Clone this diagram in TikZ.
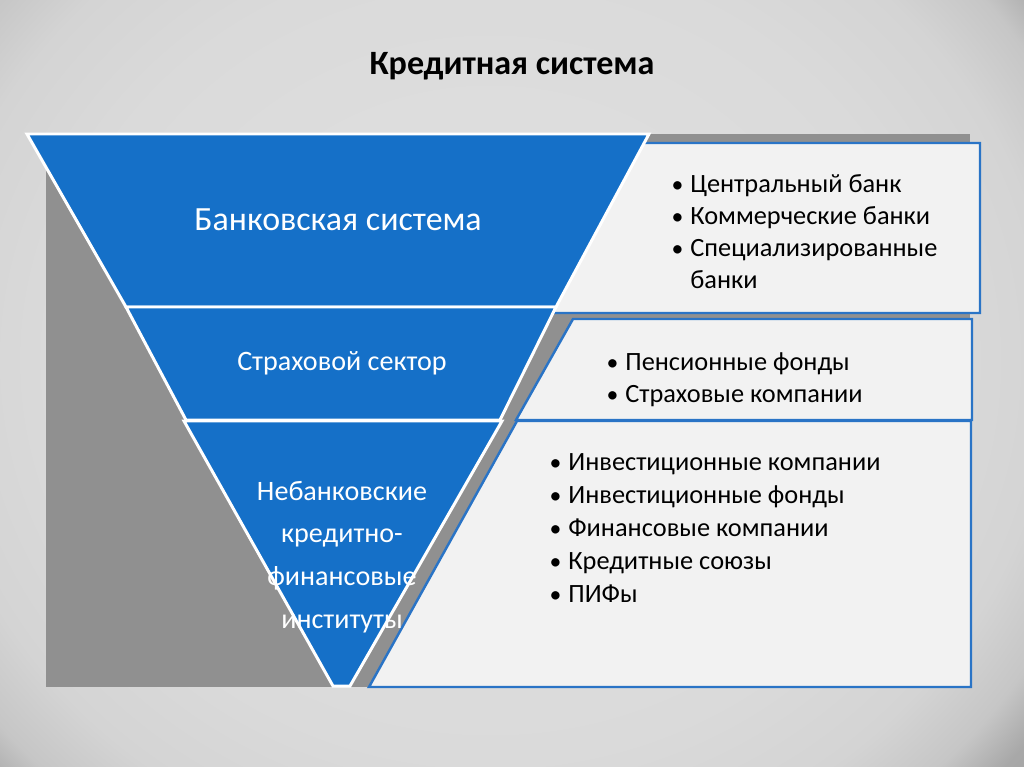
\documentclass[tikz,border=0pt]{standalone}
\usepackage{fontspec}
\setmainfont{Carlito}
\definecolor{bandblue}{HTML}{1570C8}
\definecolor{boxblue}{HTML}{2A74C6}
\definecolor{boxfill}{HTML}{F2F2F2}
\definecolor{shadowgray}{HTML}{909090}
\definecolor{bgA}{HTML}{E2E2E2}
\definecolor{bgB}{HTML}{DADADA}
\definecolor{bgC}{HTML}{D4D4D4}
\definecolor{bgD}{HTML}{C6C6C6}
\definecolor{bgE}{HTML}{A8A8A8}
\definecolor{bgF}{HTML}{9A9A9A}
\pgfdeclareradialshading{slidebg}{\pgfpoint{0bp}{0bp}}{color(0bp)=(bgA); color(20bp)=(bgB); color(25.5bp)=(bgC); color(28.8bp)=(bgD); color(31bp)=(bgE); color(38bp)=(bgF); color(50bp)=(bgF)}
\newcommand{\blt}{\llap{\scalebox{0.9}{\textbullet}\hspace{4pt}}}
\begin{document}
\begin{tikzpicture}[x=0.02cm, y=-0.02cm, line join=round,
  band/.style={fill=bandblue, draw=white, line width=1.7pt, line join=miter},
  listbox/.style={fill=boxfill, draw=boxblue, line width=1.4pt, line join=miter},
  bandtext/.style={text=white, inner sep=0pt, font=\fontsize{16}{24.4}\selectfont, align=center},
  item/.style={anchor=base west, inner sep=0pt, font=\fontsize{15}{18}\selectfont}]
\useasboundingbox (0,0) rectangle (1024,767);
% background
\begin{scope}
\clip (0,0) rectangle (1024,767);
\shade[shading=slidebg] (-60,-140) rectangle (1040,860);
\end{scope}
\fill[shadowgray] (46,134) rectangle (970,687);
% corners of the funnel and of the boxes
\path
(27,134) coordinate (T1)
(649,134) coordinate (T2)
(556,307) coordinate (T3)
(126,307) coordinate (T4)
(500,420) coordinate (T5)
(186,420) coordinate (T6)
(184,421) coordinate (T7)
(502,421) coordinate (T8)
(350,686) coordinate (T9)
(333,686) coordinate (T10)
;
\path
(640,143) coordinate (P1) (980,143) coordinate (P2) (980,313) coordinate (P3) (548,313) coordinate (P4)
(573,319) coordinate (Q1) (972,319) coordinate (Q2) (972,420) coordinate (Q3) (516,420) coordinate (Q4)
(517,421) coordinate (R1) (971,421) coordinate (R2) (971,687) coordinate (R3) (369,687) coordinate (R4)
;
\draw[listbox] (P1)--(P2)--(P3)--(P4)--cycle;
\draw[listbox] (Q1)--(Q2)--(Q3)--(Q4)--cycle;
\draw[listbox] (R1)--(R2)--(R3)--(R4)--cycle;
\draw[band] (T1)--(T2)--(T3)--(T4)--cycle;
\draw[band] (T4)--(T3)--(T5)--(T6)--cycle;
\draw[band] (T7)--(T8)--(T9)--(T10)--cycle;
% texts
\node[anchor=base, font=\fontsize{19.4}{22}\selectfont\bfseries] (title) at (512,75) {Кредитная система};
\node[bandtext, font=\fontsize{19.3}{24}\selectfont] (bank) at (338,220) {Банковская система};
\node[bandtext] (insur) at (342,363) {Страховой сектор};
\node[bandtext] (nonbank) at (342,557) {Небанковские\\кредитно-\\финансовые\\институты};
\foreach \t [count=\i] in {Центральный банк, Коммерческие банки, Специализированные}
  \node[item] (bank\i) at (690,{192+32*(\i-1)}) {\blt\t};
\node[item] (bank4) at (690,288) {банки};
\foreach \t [count=\i] in {Пенсионные фонды, Страховые компании}
  \node[item] (insur\i) at (625,{370+32*(\i-1)}) {\blt\t};
\foreach \t [count=\i] in {Инвестиционные компании, Инвестиционные фонды, Финансовые компании, Кредитные союзы, ПИФы}
  \node[item] (nonbank\i) at (568,{470+33*(\i-1)}) {\blt\t};
\end{tikzpicture}
\end{document}
